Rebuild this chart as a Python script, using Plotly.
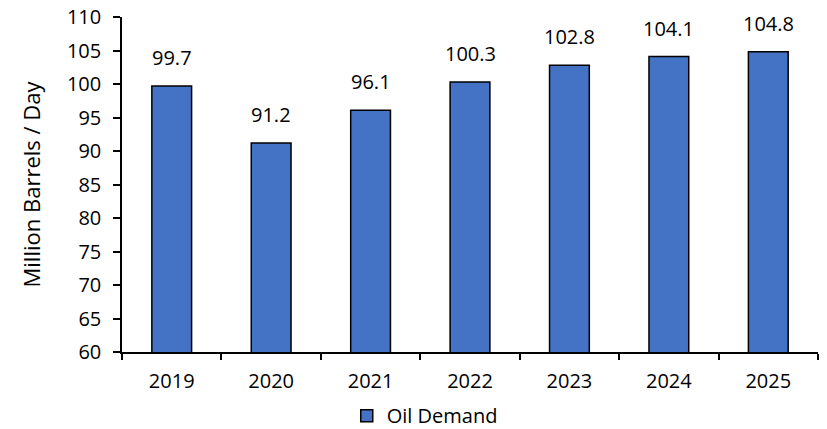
import plotly.graph_objects as go

# Global oil demand, million barrels per day
years = ["2019", "2020", "2021", "2022", "2023", "2024", "2025"]
demand = [99.7, 91.2, 96.1, 100.3, 102.8, 104.1, 104.8]
series_name = "Oil Demand"
y_ticks = list(range(60, 111, 5))

FONT = "Open Sans"
SIZE = 20
fig = go.Figure()
fig.add_trace(go.Bar(
    x=years,
    y=demand,
    name=series_name,
    marker=dict(color="#4472C4", line=dict(color="#000000", width=1.5)),
    showlegend=True,
))

# value labels sitting above each bar (category index positions)
for i, v in enumerate(demand):
    fig.add_annotation(
        x=i, y=v, text=f"{v:.1f}", showarrow=False,
        xref="x", yref="y", yanchor="bottom", yshift=13,
        font=dict(family=FONT, size=SIZE, color="#000000"),
    )

fig.update_layout(
    width=827, height=429,
    margin=dict(l=122, r=9, t=17, b=77, autoexpand=False),
    paper_bgcolor="white", plot_bgcolor="white",
    bargap=0.6,
    font=dict(family=FONT, size=SIZE, color="#000000"),
    legend=dict(
        orientation="h", x=0.435, xanchor="center", y=-0.19, yanchor="middle",
        font=dict(family=FONT, size=SIZE, color="#000000"),
    ),
)
fig.update_xaxes(
    type="category", range=[-0.5, len(years) - 0.5],
    showline=True, linecolor="#000000", linewidth=1.5,
    ticks="outside", tickson="boundaries", ticklen=6, tickwidth=1.5, tickcolor="#000000",
    ticklabelstandoff=10,
    showgrid=False, zeroline=False,
    tickfont=dict(family=FONT, size=SIZE, color="#000000"),
)
fig.update_yaxes(
    range=[60, 110], tickvals=y_ticks,
    showline=True, linecolor="#000000", linewidth=1.5,
    ticks="outside", ticklen=7, tickwidth=1.5, tickcolor="#000000",
    ticklabelstandoff=8,
    showgrid=False, zeroline=False,
    tickfont=dict(family=FONT, size=SIZE, color="#000000"),
    title=dict(text="Million Barrels / Day", standoff=20,
               font=dict(family=FONT, size=22, color="#000000")),
)

fig.write_html("out.html")
